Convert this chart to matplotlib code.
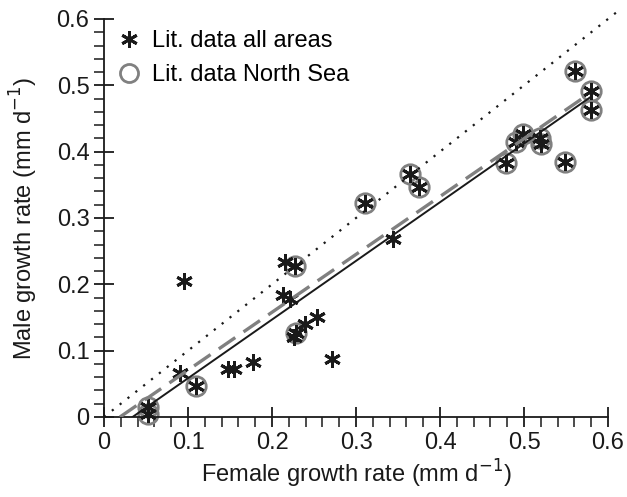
import matplotlib
matplotlib.use("Agg")
import matplotlib.pyplot as plt
from matplotlib.ticker import MultipleLocator, FuncFormatter
from matplotlib.lines import Line2D

plt.rcParams['font.family'] = ['Liberation Sans', 'DejaVu Sans']

# Literature data, all areas (female, male growth rate, mm d-1)
all_female = [0.052, 0.052, 0.091, 0.095, 0.109, 0.148, 0.155, 0.177, 0.213, 0.215,
              0.222, 0.227, 0.226, 0.229, 0.239, 0.254, 0.272, 0.311, 0.344, 0.364,
              0.375, 0.479, 0.491, 0.499, 0.519, 0.520, 0.549, 0.561, 0.580, 0.580]
all_male = [0.015, 0.004, 0.066, 0.205, 0.046, 0.073, 0.073, 0.083, 0.184, 0.233,
            0.178, 0.228, 0.120, 0.126, 0.140, 0.151, 0.087, 0.322, 0.269, 0.366,
            0.346, 0.383, 0.414, 0.426, 0.421, 0.411, 0.384, 0.522, 0.492, 0.463]

# Literature data, North Sea
ns_female = [0.052, 0.052, 0.109, 0.227, 0.229, 0.311, 0.364, 0.375, 0.479, 0.491,
             0.499, 0.519, 0.520, 0.549, 0.561, 0.580, 0.580]
ns_male = [0.015, 0.004, 0.046, 0.228, 0.126, 0.322, 0.366, 0.346, 0.383, 0.414,
           0.426, 0.421, 0.411, 0.384, 0.522, 0.492, 0.463]

# Regression lines and 1:1 line (endpoints)
fit_all_x = [0.034, 0.580]
fit_all_y = [0.000, 0.483]
fit_ns_x = [0.019, 0.575]
fit_ns_y = [0.000, 0.485]
one_x = [0.0, 0.615]
one_y = [0.0, 0.615]

fig = plt.figure(figsize=(6.27, 4.97), dpi=100)
ax = fig.add_axes([0.1659, 0.161, 0.8038, 0.8008])

gray = '#808080'
ink = '#1a1a1a'
ax.plot(ns_female, ns_male, linestyle='none', marker='o', markersize=14,
        markerfacecolor='none', markeredgecolor=gray, markeredgewidth=2.0,
        clip_on=False, zorder=2)
ax.plot(all_female, all_male, linestyle='none', marker=(6, 2, 0), markersize=12,
        markeredgecolor=ink, markeredgewidth=2.1, clip_on=False, zorder=3)

ax.plot(one_x, one_y, color=ink, linestyle=(0, (1, 3.5)), linewidth=1.6,
        clip_on=False, zorder=4)
ax.plot(fit_ns_x, fit_ns_y, color=gray, linestyle=(0, (6, 3)), linewidth=2.4,
        zorder=4)
ax.plot(fit_all_x, fit_all_y, color=ink, linestyle='-', linewidth=1.4,
        zorder=5)

ax.set_xlim(0, 0.6)
ax.set_ylim(0, 0.6)
ax.spines['top'].set_visible(False)
ax.spines['right'].set_visible(False)
for s in ('left', 'bottom'):
    ax.spines[s].set_linewidth(1.3)
    ax.spines[s].set_color(ink)

ax.xaxis.set_major_locator(MultipleLocator(0.1))
ax.xaxis.set_minor_locator(MultipleLocator(0.02))
ax.yaxis.set_major_locator(MultipleLocator(0.1))
ax.yaxis.set_minor_locator(MultipleLocator(0.02))
fmt = FuncFormatter(lambda v, p: '0' if abs(v) < 1e-9 else f'{v:.1f}')
ax.xaxis.set_major_formatter(fmt)
ax.yaxis.set_major_formatter(fmt)
ax.tick_params(which='major', direction='inout', length=15, width=1.3,
               labelsize=17, colors=ink, pad=3)
ax.tick_params(which='minor', direction='out', length=7, width=1.1, colors=ink)

ax.set_xlabel('Female growth rate (mm d$^{-1}$)', fontsize=17, color=ink, labelpad=3)
ax.set_ylabel('Male growth rate (mm d$^{-1}$)', fontsize=17, color=ink, labelpad=12)

handles = [
    Line2D([], [], linestyle='none', marker=(6, 2, 0), markersize=12,
           markeredgecolor=ink, markeredgewidth=2.1),
    Line2D([], [], linestyle='none', marker='o', markersize=13,
           markerfacecolor='none', markeredgecolor=gray, markeredgewidth=2.0),
]
ax.legend(handles, ['Lit. data all areas', 'Lit. data North Sea'], loc='upper left',
          bbox_to_anchor=(0.0, 0.995), frameon=False, fontsize=17,
          handletextpad=0.35, handlelength=1.3, labelspacing=0.5, borderaxespad=0)

fig.savefig('out.png', dpi=100)
